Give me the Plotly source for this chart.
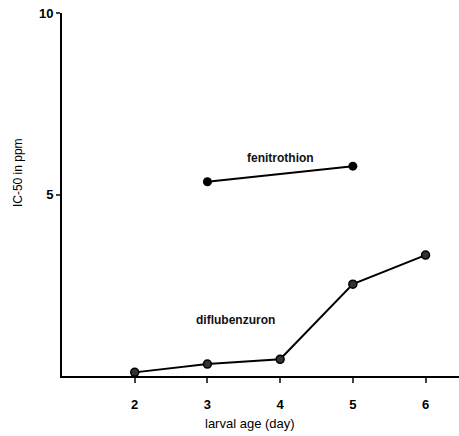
import plotly.graph_objects as go

fen_age = [3, 5]
fen_ic50 = [5.35, 5.78]
dif_age = [2, 3, 4, 5, 6]
dif_ic50 = [0.1, 0.33, 0.46, 2.53, 3.33]
x_ticks = [2, 3, 4, 5, 6]
y_ticks = [5, 10]

FONT = "Liberation Sans, Arial"

fig = go.Figure()
fig.add_trace(go.Scatter(x=fen_age, y=fen_ic50, mode="lines+markers",
                         line=dict(color="black", width=2),
                         marker=dict(color="black", size=9), showlegend=False))
fig.add_trace(go.Scatter(x=dif_age, y=dif_ic50, mode="lines+markers",
                         line=dict(color="black", width=2),
                         marker=dict(color="#333", size=8, line=dict(color="black", width=1.5)),
                         showlegend=False))

fig.add_annotation(x=4.0, y=6.0, text="fenitrothion", showarrow=False,
                   font=dict(family=FONT, size=12, color="#111", weight="bold"))
fig.add_annotation(x=3.38, y=1.55, text="diflubenzuron", showarrow=False,
                   font=dict(family=FONT, size=12, color="#111", weight="bold"))
# axis titles
fig.add_annotation(xref="paper", yref="paper", x=0, y=0.559, xshift=-53,
                   text="IC-50 in ppm", textangle=-90, showarrow=False,
                   font=dict(family=FONT, size=12, color="black"))
fig.add_annotation(xref="paper", yref="paper", x=0.474, y=0, yshift=-57,
                   text="larval age (day)", showarrow=False,
                   font=dict(family=FONT, size=13, color="black"))

fig.update_layout(
    width=459, height=436,
    margin=dict(l=62, r=0, t=13, b=60),
    paper_bgcolor="white", plot_bgcolor="white",
    font=dict(family=FONT, color="black"),
    xaxis=dict(range=[1, 6.46], tickvals=x_ticks, ticks="outside", ticklen=5,
               tickwidth=1.5, showline=True, linecolor="black", linewidth=2,
               showgrid=False, zeroline=False, automargin=False,
               ticklabelstandoff=10,
               tickfont=dict(size=13, family=FONT, weight="bold")),
    yaxis=dict(range=[0, 10], tickvals=y_ticks, ticks="outside", ticklen=4,
               tickwidth=1.5, showline=True, linecolor="black", linewidth=2,
               showgrid=False, zeroline=False, automargin=False,
               tickfont=dict(size=13, family=FONT, weight="bold")),
)

fig.write_html("out.html", config={"displayModeBar": False},
               post_script="document.body.style.margin='0';document.body.style.padding='0';")
